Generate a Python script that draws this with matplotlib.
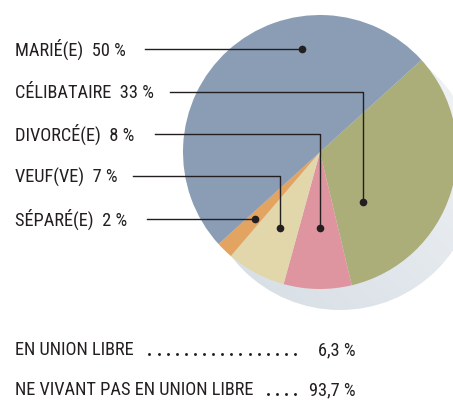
import numpy as np
import matplotlib
matplotlib.use("Agg")
import matplotlib.pyplot as plt
from matplotlib.patches import Circle
from matplotlib.colors import LinearSegmentedColormap

# slices in clockwise order from the blue/green boundary
status = ["CÉLIBATAIRE", "DIVORCÉ(E)", "VEUF(VE)", "SÉPARÉ(E)", "MARIÉ(E)"]
shares = [33, 8, 7, 2, 50]
colors = ["#abae78", "#df95a0", "#e2d7ab", "#e3a462", "#8a9db5"]

# labels top to bottom
label_order = ["MARIÉ(E)", "CÉLIBATAIRE", "DIVORCÉ(E)", "VEUF(VE)", "SÉPARÉ(E)"]

union_labels = ["EN UNION LIBRE", "NE VIVANT PAS EN UNION LIBRE"]
union_values = ["6,3 %", "93,7 %"]

W, H = 453, 401
plt.rcParams["font.family"] = ["Roboto Condensed", "DejaVu Sans"]

fig = plt.figure(figsize=(W / 100, H / 100), dpi=100)
ax = fig.add_axes([0, 0, 1, 1])

cx, cy, R = 320, H - 152, 137
ink = "#231f20"
fs = 13.2

# soft shadow behind the pie
sx, sy = cx + 20, cy - 21
shadow = Circle((sx, sy), R, facecolor="none", edgecolor="none")
ax.add_patch(shadow)
gx, gy = np.meshgrid(np.linspace(0, 1, 200), np.linspace(0, 1, 200))
grad = (gx + (1 - gy)) / 2
img = ax.imshow(grad, extent=[sx - R, sx + R, sy - R, sy + R], origin="upper",
                cmap=LinearSegmentedColormap.from_list("sh", ["#d4dce3", "#f3f5f8"]),
                zorder=1)
img.set_clip_path(shadow)

ax.pie(shares, colors=colors, startangle=42.2, counterclock=False,
       center=(cx, cy), radius=R, wedgeprops=dict(linewidth=0, zorder=2),
       frame=True)
ax.set_xlim(0, W)
ax.set_ylim(0, H)
ax.set_aspect("equal")
ax.axis("off")

# leader layout: line y, text baseline, line start x, dot (x, y) in pixels from top
line_y = [49, 92, 134, 176, 219]
base_y = [55.5, 98, 140.5, 183, 225.5]
line_x0 = [145, 170, 155, 133, 147]
dots = [(302, 49), (363, 202), (320, 228), (280, 228), (255, 219)]

for name, ly, by, x0, (dx, dy) in zip(label_order, line_y, base_y, line_x0, dots):
    pct = shares[status.index(name)]
    ax.text(15, H - by, f"{name}  {pct} %", fontsize=fs, color=ink,
            ha="left", va="baseline")
    if abs(dy - ly) < 4:
        ax.plot([x0, dx], [H - ly, H - ly], color=ink, lw=1, zorder=3)
    else:
        ax.plot([x0, dx, dx], [H - ly, H - ly, H - dy], color=ink, lw=1, zorder=3)
    ax.plot(dx, H - dy, "o", color=ink, ms=4.5, zorder=4)

# union summary with dotted leaders
ndots = [17, 4]
for i, (lab, val, n) in enumerate(zip(union_labels, union_values, ndots)):
    y = H - (355 + i * 40)
    ax.text(15, y, lab, fontsize=fs, color=ink, ha="left", va="baseline")
    ax.text(356, y, val, fontsize=fs, color=ink, ha="right", va="baseline")
    xs = 295 - 9.1 * np.arange(n)
    ax.plot(xs, np.full(n, y + 1), "o", color=ink, ms=2.1, mew=0)

fig.savefig("out.png", dpi=100)
